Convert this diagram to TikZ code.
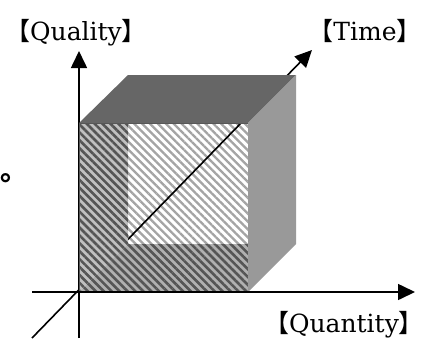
\documentclass[tikz,border=0pt]{standalone}
\usepackage{fontspec}
\setmainfont{DejaVu Serif}
\newfontfamily\cjk{Noto Sans CJK JP}
\usetikzlibrary{arrows.meta,patterns.meta}
\definecolor{topgray}{HTML}{666666}
\definecolor{sidegray}{HTML}{999999}
\definecolor{stripebg}{HTML}{C0C0C0}
\definecolor{stripebgb}{HTML}{B0B0B0}
\definecolor{stripedark}{HTML}{555555}
\definecolor{stripelight}{HTML}{A4A4A4}
\tikzset{
  axis/.style={line width=1.6pt,-{Triangle[length=17pt,width=16pt]}},
  lab/.style={inner sep=0pt,anchor=base,font=\fontsize{25}{29}\selectfont},
  hatchdark/.style={pattern={Lines[angle=-45,distance=5.6pt,line width=2.6pt]},pattern color=stripedark},
  hatchlight/.style={pattern={Lines[angle=-45,distance=5.6pt,line width=2.3pt]},pattern color=stripelight},
}
\begin{document}
\begin{tikzpicture}[x=1pt,y=-1pt]
\useasboundingbox (0,0) rectangle (425,338);
% coordinates
\coordinate (O) at (79,292);
\coordinate (FTL) at (79,123);
\coordinate (FTR) at (248,123);
\coordinate (FBR) at (248,292);
\coordinate (BTL) at (128,75);
\coordinate (BTR) at (296,75);
\coordinate (BBR) at (296,244);
\coordinate (BIL) at (128,244);
\coordinate (BIT) at (128,123);
\coordinate (BIR) at (248,244);
\coordinate (qbot) at (79,338);
\coordinate (qtip) at (79,51);
\coordinate (xleft) at (32,292);
\coordinate (xtip) at (415,292);
\coordinate (tneg) at (32,338);
\coordinate (ttip) at (312,50);
% vertical axis (behind)
\draw[axis] (qbot) -- (qtip);
% back face (white with light stripes)
\fill[white] (BIT) rectangle (BIR);
\fill[hatchlight] (BIT) rectangle (BIR);
% time axis
\draw[axis] (tneg) -- (ttip);
% left face
\fill[stripebg] (FTL) -- (BIT) -- (BIL) -- (O) -- cycle;
\fill[hatchdark] (FTL) -- (BIT) -- (BIL) -- (O) -- cycle;
% bottom face
\fill[stripebgb] (O) -- (BIL) -- (BIR) -- (FBR) -- cycle;
\fill[hatchdark] (O) -- (BIL) -- (BIR) -- (FBR) -- cycle;
% front border
\draw[line width=0.6pt,color=stripedark] (FTL) rectangle (FBR);
% top face
\fill[topgray] (FTL) -- (BTL) -- (BTR) -- (FTR) -- cycle;
% right face
\fill[sidegray] (FTR) -- (BTR) -- (BBR) -- (FBR) -- cycle;
% horizontal axis
\draw[axis] (xleft) -- (xtip);
% labels
\node[lab] (lq) at (76,40) {{\cjk 【}Quality{\cjk 】}};
\node[lab] (lt) at (365,40) {{\cjk 【}Time{\cjk 】}};
\node[lab] (lqt) at (344,332) {{\cjk 【}Quantity{\cjk 】}};
\node[inner sep=0pt,anchor=base west,font=\fontsize{28}{32}\selectfont] (dot) at (0,180) {\cjk\bfseries 。};
\end{tikzpicture}
\end{document}
